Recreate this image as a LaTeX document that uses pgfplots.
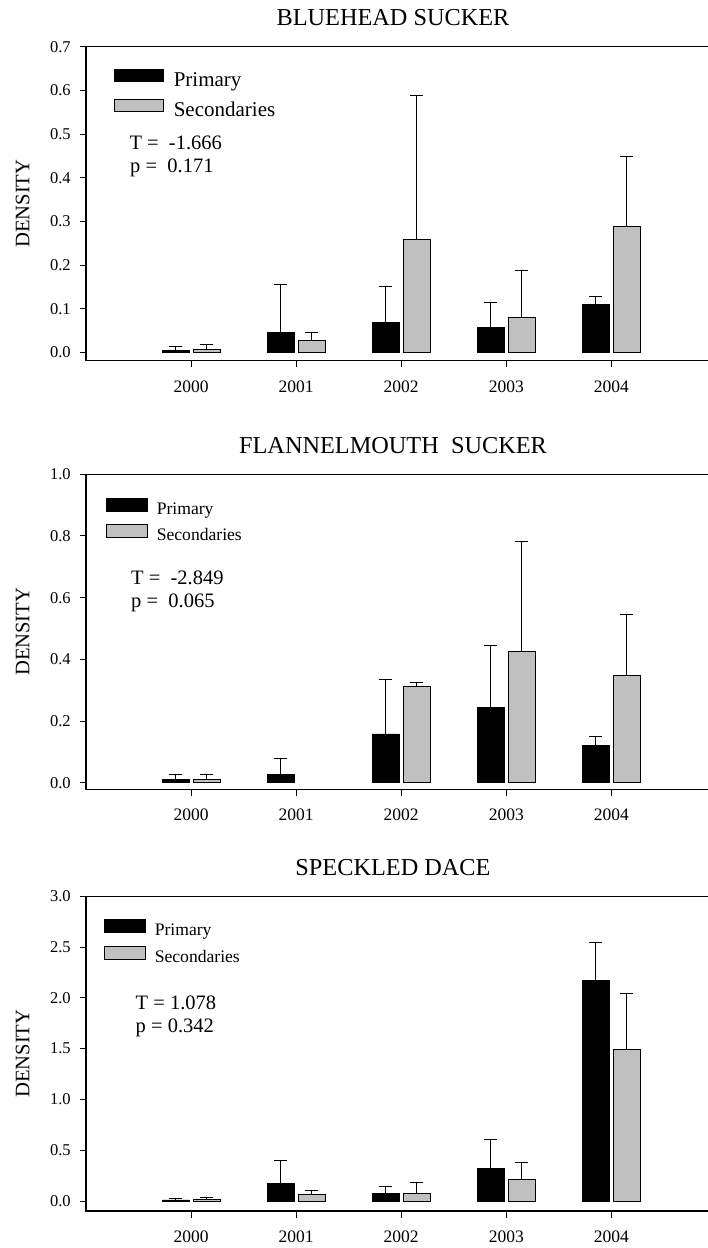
\documentclass[border=0pt]{standalone}
\usepackage{fontspec}
\setmainfont{Liberation Serif}
\usepackage{pgfplots}
\pgfplotsset{compat=1.18}
\definecolor{sgray}{RGB}{192,192,192}

\pgfplotsset{
  panel/.style={
    scale only axis, width=622pt,
    xmin=0, xmax=5.92,
    axis line style={draw=none},
    xtick={1,2,3,4,5}, xticklabels={2000,2001,2002,2003,2004},
    tick align=outside, xtick pos=left, ytick pos=left,
    major tick length=6.5pt,
    tick style={black, line width=1pt},
    minor tick num=0,
    /pgf/number format/assume math mode=true,
    yticklabel style={font=\fontsize{16.5}{19}\selectfont, inner sep=0pt, xshift=-8.6pt,
      /pgf/number format/.cd, fixed, fixed zerofill, precision=1},
    xticklabel style={font=\fontsize{17.5}{20}\selectfont, inner sep=0pt, yshift=-13.3pt},
    clip=false,
    legend cell align=left,
    after end axis/.code={
      \draw[black, line width=1.3pt] (rel axis cs:1,1) -- (rel axis cs:0,1) -- (rel axis cs:0,0) -- (rel axis cs:1,0);
    },
  },
  legA/.style={legend image code/.code={\draw[##1, line width=0.9pt] (0pt,0.7pt) rectangle (48.3pt,13.1pt);}},
  legB/.style={legend image code/.code={\draw[##1, line width=0.9pt] (0pt,-0.7pt) rectangle (40.7pt,12.3pt);}},
  commonbar/.style={ybar, bar width=27pt, bar shift=0pt, draw=black, line width=0.9pt,
    error bars/y dir=plus, error bars/y explicit,
    error bars/error mark=|,
    error bars/error bar style={line width=1pt, black},
    error bars/error mark options={black, mark size=6.5pt, line width=1pt, rotate=0}},
  primbar/.style={commonbar, fill=black},
  secbar/.style={commonbar, fill=sgray},
}

\begin{document}
\begin{tikzpicture}
\path[use as bounding box] (0,0) rectangle (708pt,-1248pt);

% ---------------- Panel 1 ----------------
\begin{axis}[panel, at={(86pt,-360.7pt)}, anchor=south west, height=314pt,
  ymin=-0.0192, ymax=0.7, ytick={0,0.1,0.2,0.3,0.4,0.5,0.6,0.7},
  legend style={draw=none, fill=none, at={(0,1)}, anchor=north west, xshift=28pt, yshift=-21.7pt,
    inner sep=0pt, row sep=7pt, font=\fontsize{21}{24}\selectfont,
    nodes={inner sep=0pt, text height=14pt, text depth=5pt},
    /tikz/every odd column/.style={column sep=10.4pt}}]
\addplot[primbar, legA] table[x expr=\thisrow{x}-0.1475, y=y, y error=e] {
x y e
1 0.004 0.009
2 0.046 0.109
3 0.069 0.081
4 0.057 0.057
5 0.110 0.019
};
\addlegendentry{Primary}
\addplot[secbar, legA] table[x expr=\thisrow{x}+0.1475, y=y, y error=e] {
x y e
1 0.007 0.0105
2 0.027 0.019
3 0.258 0.330
4 0.079 0.108
5 0.288 0.160
};
\addlegendentry{Secondaries}
\end{axis}

% ---------------- Panel 2 ----------------
\begin{axis}[panel, at={(86pt,-789.3pt)}, anchor=south west, height=315pt,
  ymin=-0.0214, ymax=1.0, ytick={0,0.2,0.4,0.6,0.8,1.0},
  legend style={draw=none, fill=none, at={(0,1)}, anchor=north west, xshift=20pt, yshift=-23.5pt,
    inner sep=0pt, row sep=5.3pt, font=\fontsize{17.6}{20}\selectfont,
    nodes={inner sep=0pt, text height=12pt, text depth=4.5pt},
    /tikz/every odd column/.style={column sep=9pt}}]
\addplot[primbar, legB] table[x expr=\thisrow{x}-0.1475, y=y, y error=e] {
x y e
1 0.011 0.017
2 0.027 0.053
3 0.158 0.178
4 0.245 0.200
5 0.121 0.030
};
\addlegendentry{Primary}
\addplot[secbar, legB] table[x expr=\thisrow{x}+0.1475, y=y, y error=e] {
x y e
1 0.011 0.015
3 0.313 0.012
4 0.425 0.356
5 0.349 0.197
};
\addlegendentry{Secondaries}
\end{axis}

% ---------------- Panel 3 ----------------
\begin{axis}[panel, at={(86pt,-1211pt)}, anchor=south west, height=314.7pt,
  ymin=-0.0985, ymax=3.0, ytick={0,0.5,1.0,1.5,2.0,2.5,3.0},
  legend style={draw=none, fill=none, at={(0,1)}, anchor=north west, xshift=18pt, yshift=-22.2pt,
    inner sep=0pt, row sep=5.8pt, font=\fontsize{17.6}{20}\selectfont,
    nodes={inner sep=0pt, text height=12pt, text depth=4.5pt},
    /tikz/every odd column/.style={column sep=9pt}}]
\addplot[primbar, legB] table[x expr=\thisrow{x}-0.1475, y=y, y error=e] {
x y e
1 0.010 0.010
2 0.174 0.223
3 0.075 0.063
4 0.322 0.285
5 2.169 0.374
};
\addlegendentry{Primary}
\addplot[secbar, legB] table[x expr=\thisrow{x}+0.1475, y=y, y error=e] {
x y e
1 0.020 0.016
2 0.066 0.042
3 0.075 0.109
4 0.213 0.168
5 1.490 0.558
};
\addlegendentry{Secondaries}
\end{axis}

% ---------------- Titles, labels, statistics ----------------
\begin{scope}[every node/.style={inner sep=0pt}]
\node[anchor=base, font=\fontsize{24.3}{28}\selectfont] at (393pt,-25.7pt) {BLUEHEAD SUCKER};
\node[anchor=base, font=\fontsize{24.3}{28}\selectfont] at (393pt,-453.3pt) {FLANNELMOUTH\ \ SUCKER};
\node[anchor=base, font=\fontsize{24.3}{28}\selectfont] at (393pt,-875pt) {SPECKLED DACE};

\node[anchor=base, rotate=90, font=\fontsize{20.6}{24}\selectfont] at (29.3pt,-203.7pt) {DENSITY};
\node[anchor=base, rotate=90, font=\fontsize{20.6}{24}\selectfont] at (29.3pt,-631.8pt) {DENSITY};
\node[anchor=base, rotate=90, font=\fontsize{20.6}{24}\selectfont] at (29.3pt,-1053.7pt) {DENSITY};

\node[anchor=base west, font=\fontsize{20.5}{24}\selectfont] at (129.3pt,-149pt) {T = \ -1.666};
\node[anchor=base west, font=\fontsize{20.5}{24}\selectfont] at (130pt,-172.3pt) {p = \ 0.171};
\node[anchor=base west, font=\fontsize{20.5}{24}\selectfont] at (131pt,-584pt) {T = \ -2.849};
\node[anchor=base west, font=\fontsize{20.5}{24}\selectfont] at (131pt,-607.3pt) {p = \ 0.065};
\node[anchor=base west, font=\fontsize{20.5}{24}\selectfont] at (135.5pt,-1009pt) {T = 1.078};
\node[anchor=base west, font=\fontsize{20.5}{24}\selectfont] at (135.5pt,-1032.3pt) {p = 0.342};
\end{scope}
\end{tikzpicture}
\end{document}
